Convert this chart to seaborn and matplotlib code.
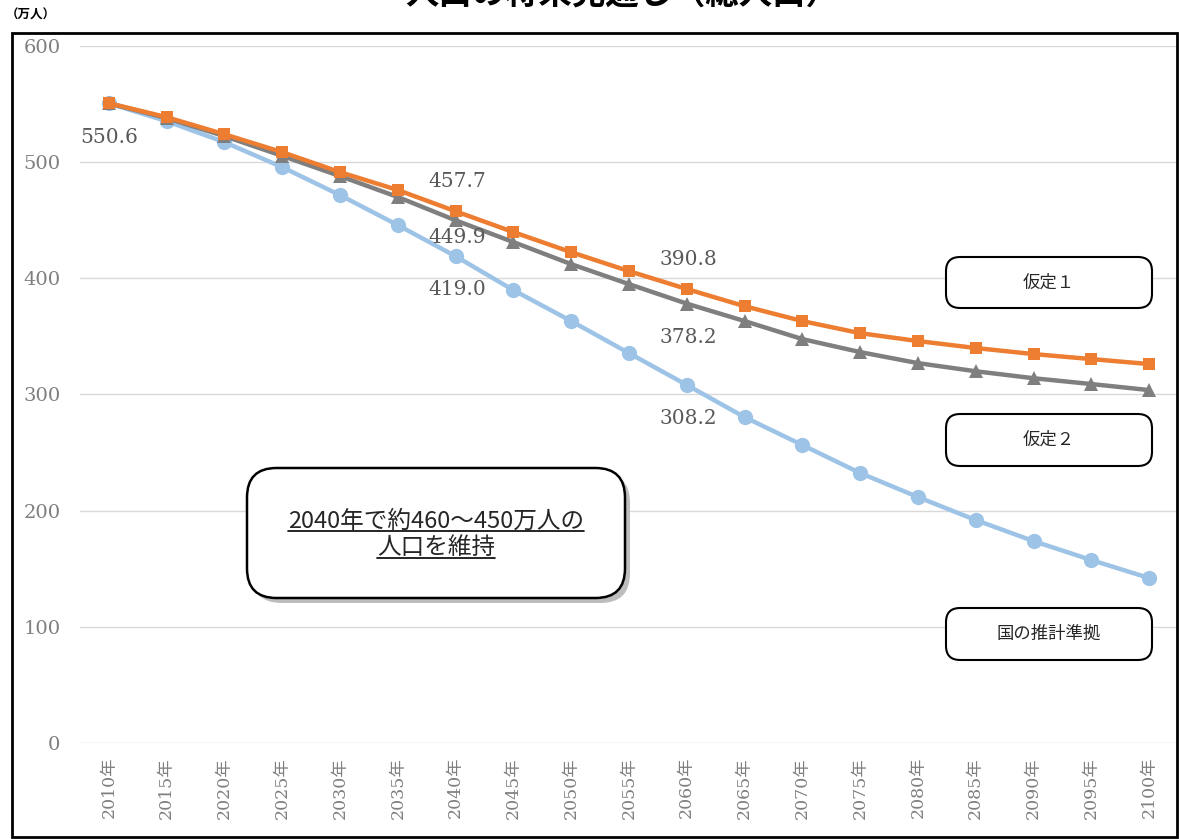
import matplotlib
matplotlib.use("Agg")
import matplotlib.pyplot as plt
from matplotlib.patches import FancyBboxPatch, Rectangle
from matplotlib.lines import Line2D
import pandas as pd
import seaborn as sns

# --- data (万人) ---
years = [2010, 2015, 2020, 2025, 2030, 2035, 2040, 2045, 2050, 2055,
         2060, 2065, 2070, 2075, 2080, 2085, 2090, 2095, 2100]
assume1 = [550.8, 538.7, 524.0, 508.6, 491.4, 476.0, 457.7, 439.8, 422.5, 406.2,
           390.8, 376.0, 363.2, 352.8, 346.0, 340.0, 334.8, 330.5, 326.2]
assume2 = [550.6, 537.9, 522.4, 505.4, 488.0, 470.0, 449.9, 431.2, 412.2, 395.0,
           378.2, 363.2, 347.7, 336.5, 327.0, 320.0, 314.0, 309.0, 303.8]
national = [550.6, 535.3, 517.2, 495.7, 471.6, 445.8, 419.0, 389.8, 363.2, 335.6,
            308.2, 280.5, 256.5, 232.4, 211.7, 191.9, 173.8, 157.5, 142.0]
year_labels = [f"{y}年" for y in years]
y_ticks = [0, 100, 200, 300, 400, 500, 600]

# value labels: (series, year, text)
label_points = [
    ("national", 2010, "550.6"),
    ("assume1", 2040, "457.7"),
    ("assume2", 2040, "449.9"),
    ("national", 2040, "419.0"),
    ("assume1", 2060, "390.8"),
    ("assume2", 2060, "378.2"),
    ("national", 2060, "308.2"),
]

sns.set_theme(style="white")
CJK = ["Noto Sans CJK JP", "DejaVu Sans"]
SERIF = ["DejaVu Serif", "Noto Sans CJK JP"]
plt.rcParams["font.family"] = CJK

W, H = 1179, 839
fig = plt.figure(figsize=(W / 100, H / 100), dpi=100)


def fx(x):
    return x / W


def fy(y):
    return 1 - y / H


ax = fig.add_axes([fx(80), fy(743), (1178 - 80) / W, (743 - 46) / H])

df = pd.DataFrame({"year": years, "assume1": assume1,
                   "assume2": assume2, "national": national})

sns.lineplot(data=df, x="year", y="national", ax=ax, color="#9DC3E6",
             linewidth=3.2, marker="o", markersize=11, markeredgewidth=0)
sns.lineplot(data=df, x="year", y="assume2", ax=ax, color="#7F7F7F",
             linewidth=3.2, marker="^", markersize=10, markeredgewidth=0)
sns.lineplot(data=df, x="year", y="assume1", ax=ax, color="#ED7D31",
             linewidth=3.2, marker="s", markersize=9, markeredgewidth=0)

ax.set_xlim(2007.5, 2102.5)
ax.set_ylim(0, 600)
ax.set_yticks(y_ticks)
ax.set_yticklabels([str(v) for v in y_ticks], family=SERIF, fontsize=14,
                   color="#7F7F7F")
ax.set_xticks(years)
ax.set_xticklabels(year_labels, rotation=90, family=SERIF, fontsize=12.5,
                   color="#7F7F7F", va="top")
ax.tick_params(axis="y", length=0, pad=14)
ax.tick_params(axis="x", length=0, pad=10)
ax.set_xlabel("")
ax.set_ylabel("")
ax.grid(axis="y", color="#D9D9D9", linewidth=1)
ax.grid(axis="x", visible=False)
for s in ax.spines.values():
    s.set_visible(False)

# value labels (offsets in data units)
offsets = {
    ("national", 2010): (-2.5, -29),
    ("assume1", 2040): (-2.4, 26),
    ("assume2", 2040): (-2.4, -14.5),
    ("national", 2040): (-2.4, -29),
    ("assume1", 2060): (-2.4, 25),
    ("assume2", 2060): (-2.4, -29),
    ("national", 2060): (-2.4, -28.5),
}
for series, yr, txt in label_points:
    val = df.loc[df["year"] == yr, series].iloc[0]
    dx, dy = offsets[(series, yr)]
    ax.text(yr + dx, val + dy, txt, family=SERIF, fontsize=14.5,
            color="#595959", ha="left", va="center")

# outer chart frame
fig.patches.append(Rectangle((fx(12), fy(837)), fx(1165), (837 - 33) / H,
                             transform=fig.transFigure, fill=False,
                             edgecolor="black", linewidth=2))

# title (cut off at the top in the source)
fig.text(fx(622), fy(12), "人口の将来見通し（総人口）", ha="center", va="bottom",
         fontsize=24, fontweight="bold", color="black")
fig.text(fx(6), fy(22), "（万人）", ha="left", va="bottom", fontsize=9,
         fontweight="bold", color="black")


def rbox(x0, y0, x1, y1, lw=1.5, shadow=False):
    rs = 0.025 if shadow else 0.012
    if shadow:
        fig.patches.append(FancyBboxPatch(
            (fx(x0 + 5), fy(y1 + 5)), fx(x1 - x0), (y1 - y0) / H,
            boxstyle="round,pad=0,rounding_size=%s" % rs,
            transform=fig.transFigure, facecolor="#BDBDBD",
            edgecolor="none", mutation_aspect=W / H))
    fig.patches.append(FancyBboxPatch(
        (fx(x0), fy(y1)), fx(x1 - x0), (y1 - y0) / H,
        boxstyle="round,pad=0,rounding_size=%s" % rs,
        transform=fig.transFigure, facecolor="white",
        edgecolor="black", linewidth=lw, mutation_aspect=W / H))


rbox(946, 257, 1152, 308)
rbox(946, 414, 1152, 466)
rbox(946, 608, 1152, 660)
fig.text(fx(1049), fy(283), "仮定１", ha="center", va="center", fontsize=12.5)
fig.text(fx(1049), fy(440), "仮定２", ha="center", va="center", fontsize=12.5)
fig.text(fx(1049), fy(634), "国の推計準拠", ha="center", va="center", fontsize=12.5)

rbox(247, 468, 625, 598, lw=1.8, shadow=True)
t1 = fig.text(fx(436), fy(521), "2040年で約460～450万人の", ha="center",
              va="center", fontsize=17)
t2 = fig.text(fx(436), fy(548), "人口を維持", ha="center", va="center",
              fontsize=17)

# underline the callout text
fig.canvas.draw()
r = fig.canvas.get_renderer()
for t in (t1, t2):
    bb = t.get_window_extent(r).transformed(fig.transFigure.inverted())
    fig.add_artist(Line2D([bb.x0, bb.x1], [bb.y0 + 0.002, bb.y0 + 0.002],
                          transform=fig.transFigure, color="black",
                          linewidth=1.2))

fig.savefig("out.png", dpi=100)
